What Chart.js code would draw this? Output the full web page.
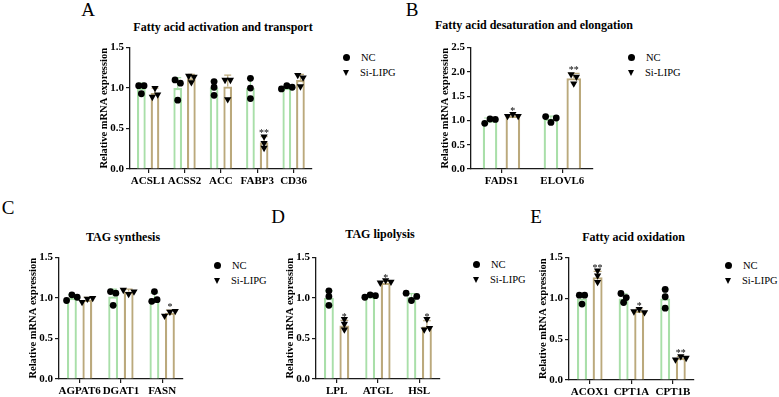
<!DOCTYPE html>
<html lang="en">
<head>
<meta charset="UTF-8">
<title>Lipid metabolism genes</title>
<script src="https://cdn.jsdelivr.net/npm/chart.js"></script>
<style>
  body { margin: 0; background: #fff; width: 779px; height: 397px; position: relative; overflow: hidden;
         font-family: 'Liberation Serif', serif; color: #000; }
  .letter { position: absolute; font-size: 19px; line-height: 1; transform: translate(-50%, -50%); }
  .ptitle { position: absolute; font-size: 12px; font-weight: bold; line-height: 14px; white-space: nowrap;
            transform: translate(-50%, -50%); }
  .leg { position: absolute; height: 14px; display: flex; align-items: center; font-size: 10.5px; }
  .dot { width: 7px; height: 7px; border-radius: 50%; background: #000; margin-right: 11px; }
  .tri { width: 0; height: 0; border-left: 3.5px solid transparent; border-right: 3.5px solid transparent;
         border-top: 6px solid #000; margin-right: 11px; }
</style>
</head>
<body>
<script>
// ---- data ----
const seriesNames = ['NC', 'Si-LIPG'];

// A  fatty acid activation and transport
const catsA = ['ACSL1', 'ACSS2', 'ACC', 'FABP3', 'CD36'];
const ncMeanA = [1.00, 1.00, 1.00, 1.00, 1.00];
const ncSdA = [0.06, 0.13, 0.09, 0.13, 0.02];
const siMeanA = [0.94, 1.12, 1.02, 0.33, 1.10];
const siSdA = [0.06, 0.05, 0.14, 0.07, 0.07];
const ncPtsA = [[1.03, 0.93, 1.03], [1.10, 1.06, 0.85], [1.08, 1.01, 0.91], [1.12, 1.00, 0.87], [0.99, 1.03, 1.01]];
const siPtsA = [[0.89, 1.00, 0.92], [1.15, 1.07, 1.14], [1.10, 0.86, 1.10], [0.40, 0.32, 0.26], [1.16, 1.02, 1.13]];
const starsA = ['', '', '', '**', ''];
const yTicksA = [0, 0.5, 1.0, 1.5];

// B  desaturation and elongation
const catsB = ['FADS1', 'ELOVL6'];
const ncMeanB = [1.00, 1.03];
const ncSdB = [0.05, 0.06];
const siMeanB = [1.10, 1.87];
const siSdB = [0.02, 0.10];
const ncPtsB = [[0.94, 1.03, 1.02], [1.08, 0.96, 1.05]];
const siPtsB = [[1.09, 1.13, 1.09], [1.95, 1.76, 1.90]];
const starsB = ['*', '**'];
const yTicksB = [0, 0.5, 1.0, 1.5, 2.0, 2.5];

// C  TAG synthesis
const catsC = ['AGPAT6', 'DGAT1', 'FASN'];
const ncMeanC = [1.00, 1.02, 1.00];
const ncSdC = [0.04, 0.09, 0.06];
const siMeanC = [0.98, 1.08, 0.82];
const siSdC = [0.03, 0.03, 0.03];
const ncPtsC = [[0.97, 1.04, 1.01], [1.08, 0.91, 1.06], [0.96, 1.08, 0.98]];
const siPtsC = [[0.95, 0.99, 1.00], [1.10, 1.05, 1.08], [0.78, 0.83, 0.84]];
const starsC = ['', '', '*'];
const yTicksC = [0, 0.5, 1.0, 1.5];

// D  TAG lipolysis
const catsD = ['LPL', 'ATGL', 'HSL'];
const ncMeanD = [1.00, 1.02, 1.01];
const ncSdD = [0.09, 0.02, 0.045];
const siMeanD = [0.66, 1.19, 0.65];
const siSdD = [0.065, 0.015, 0.07];
const ncPtsD = [[1.09, 1.02, 0.91], [1.01, 1.04, 1.03], [1.06, 0.97, 1.02]];
const siPtsD = [[0.74, 0.68, 0.61], [1.19, 1.22, 1.20], [0.61, 0.74, 0.63]];
const starsD = ['*', '*', '*'];
const yTicksD = [0, 0.5, 1.0, 1.5];

// E  fatty acid oxidation
const catsE = ['ACOX1', 'CPT1A', 'CPT1B'];
const ncMeanE = [1.00, 1.00, 1.00];
const ncSdE = [0.06, 0.055, 0.115];
const siMeanE = [1.26, 0.85, 0.27];
const siSdE = [0.07, 0.02, 0.02];
const ncPtsE = [[1.04, 0.93, 1.04], [1.06, 0.95, 1.01], [1.11, 1.02, 0.88]];
const siPtsE = [[1.34, 1.28, 1.20], [0.84, 0.87, 0.83], [0.25, 0.29, 0.27]];
const starsE = ['**', '*', '**'];
const yTicksE = [0, 0.5, 1.0, 1.5];

// ---- look ----
const SERIF = "'Liberation Serif', serif";
const GREEN = '#a9dfa9';
const TAN = '#bba97c';
const AXIS = '#1a1a1a';
const Y_W = 32;      // y axis box width (title + ticks)
const X_H = 24;      // x axis box height
const PAD_T = 8;     // room above the top tick
const NEAR = 4.5;    // px: replicates closer than this get spread sideways
const GAP = 5.5;     // px between spread replicates
const SLOT = 0.375;  // distance between NC and Si bar centres, in categories
const BAR_FILL = 0.64;

const panels = [
  { letter: 'A', lx: 88, ly: 9, title: 'Fatty acid activation and transport', cats: catsA,
    ncMean: ncMeanA, ncSd: ncSdA, siMean: siMeanA, siSd: siSdA, ncPts: ncPtsA, siPts: siPtsA, stars: starsA, yTicks: yTicksA,
    box: { axisX: 130, axisEnd: 316, plotTop: 47, plotBottom: 169, titleY: 27 }, leg: { x: 343, y: 57 } },
  { letter: 'B', lx: 412, ly: 9, title: 'Fatty acid desaturation and elongation', cats: catsB,
    ncMean: ncMeanB, ncSd: ncSdB, siMean: siMeanB, siSd: siSdB, ncPts: ncPtsB, siPts: siPtsB, stars: starsB, yTicks: yTicksB,
    box: { axisX: 471, axisEnd: 597, plotTop: 47, plotBottom: 169, titleY: 25 }, leg: { x: 628, y: 57 } },
  { letter: 'C', lx: 8, ly: 207, title: 'TAG synthesis', cats: catsC,
    ncMean: ncMeanC, ncSd: ncSdC, siMean: siMeanC, siSd: siSdC, ncPts: ncPtsC, siPts: siPtsC, stars: starsC, yTicks: yTicksC,
    box: { axisX: 59, axisEnd: 187, plotTop: 257, plotBottom: 379, titleY: 237 }, leg: { x: 214, y: 265 } },
  { letter: 'D', lx: 278, ly: 216, title: 'TAG lipolysis', cats: catsD,
    ncMean: ncMeanD, ncSd: ncSdD, siMean: siMeanD, siSd: siSdD, ncPts: ncPtsD, siPts: siPtsD, stars: starsD, yTicks: yTicksD,
    box: { axisX: 316, axisEnd: 444, plotTop: 257, plotBottom: 379, titleY: 234 }, leg: { x: 473, y: 264 } },
  { letter: 'E', lx: 536, ly: 216, title: 'Fatty acid oxidation', cats: catsE,
    ncMean: ncMeanE, ncSd: ncSdE, siMean: siMeanE, siSd: siSdE, ncPts: ncPtsE, siPts: siPtsE, stars: starsE, yTicks: yTicksE,
    box: { axisX: 569, axisEnd: 698, plotTop: 257, plotBottom: 380, titleY: 237 }, leg: { x: 725, y: 265 } }
];

// error bars (upper half, like the figure) and significance stars
const errorBars = {
  id: 'errorBars',
  afterDatasetDraw(chart, args) {
    const ds = chart.data.datasets[args.index];
    if (!ds.sd) return;
    const y = chart.scales.y, ctx = chart.ctx;
    ctx.save();
    ctx.strokeStyle = ds.borderColor;
    ctx.lineWidth = 1.2;
    args.meta.data.forEach((bar, i) => {
      const top = y.getPixelForValue(ds.mean[i] + ds.sd[i]);
      const base = y.getPixelForValue(ds.mean[i]);
      const hw = bar.width * 0.4;
      ctx.beginPath();
      ctx.moveTo(bar.x, base); ctx.lineTo(bar.x, top);
      ctx.moveTo(bar.x - hw, top); ctx.lineTo(bar.x + hw, top);
      ctx.stroke();
    });
    ctx.restore();
  },
  afterDatasetsDraw(chart) {
    const y = chart.scales.y, ctx = chart.ctx;
    chart.data.datasets.forEach((ds, di) => {
      if (!ds.stars) return;
      const meta = chart.getDatasetMeta(di);
      ctx.save();
      ctx.fillStyle = '#000';
      ctx.font = '10px ' + SERIF;
      ctx.textAlign = 'center';
      ctx.textBaseline = 'bottom';
      meta.data.forEach((bar, i) => {
        if (!ds.stars[i]) return;
        ctx.fillText(ds.stars[i], bar.x, y.getPixelForValue(ds.mean[i] + ds.sd[i]) + 2);
      });
      ctx.restore();
    });
  }
};

// replicate points, side by side when they would overlap
function spread(groups, shift, pxPerUnit, catPx) {
  const out = [];
  groups.forEach((vals, ci) => {
    const idx = vals.map((v, i) => i).sort((a, b) => vals[a] - vals[b]);
    let cluster = [idx[0]];
    const flush = () => {
      cluster.sort((a, b) => a - b).forEach((k, j) => {
        out.push({ x: ci + shift + (j - (cluster.length - 1) / 2) * GAP / catPx, y: vals[k] });
      });
    };
    for (let j = 1; j < idx.length; j++) {
      if ((vals[idx[j]] - vals[idx[j - 1]]) * pxPerUnit < NEAR) cluster.push(idx[j]);
      else { flush(); cluster = [idx[j]]; }
    }
    flush();
  });
  return out;
}

function addDiv(cls, text, x, y) {
  const d = document.createElement('div');
  d.className = cls;
  d.textContent = text;
  d.style.left = x + 'px';
  d.style.top = y + 'px';
  document.body.appendChild(d);
  return d;
}

function makePanel(p) {
  const b = p.box;
  const left = b.axisX - Y_W;
  const top = b.plotTop - PAD_T;
  const w = b.axisEnd - left;
  const h = b.plotBottom + X_H - top;
  const cv = document.createElement('canvas');
  cv.width = w; cv.height = h;
  cv.style.cssText = `position:absolute;left:${left}px;top:${top}px;width:${w}px;height:${h}px`;
  document.body.appendChild(cv);

  const n = p.cats.length;
  const ymax = p.yTicks[p.yTicks.length - 1];
  const pxPerUnit = (b.plotBottom - b.plotTop) / ymax;
  const catPx = (b.axisEnd - b.axisX) / n;
  const shift = SLOT / 2;
  const tickFont = { family: SERIF, weight: 'bold', size: 11 };
  const barSet = (name, means, sds, colour, side, stars) => ({
    type: 'bar', label: name, xAxisID: 'xp', yAxisID: 'y',
    data: means.map((v, i) => ({ x: i + side, y: v })),
    mean: means, sd: sds, stars: stars,
    backgroundColor: '#fff', borderColor: colour, borderWidth: 2.3, borderSkipped: 'start',
    grouped: false, barPercentage: 1, categoryPercentage: BAR_FILL, order: 1
  });

  new Chart(cv, {
    type: 'bar',
    data: {
      labels: p.cats,
      datasets: [
        { type: 'scatter', label: seriesNames[0], data: spread(p.ncPts, -shift, pxPerUnit, catPx), xAxisID: 'xp', yAxisID: 'y',
          pointStyle: 'circle', pointRadius: 3.4, backgroundColor: '#000', borderColor: '#000', borderWidth: 0, order: 0 },
        { type: 'scatter', label: seriesNames[1], data: spread(p.siPts, shift, pxPerUnit, catPx), xAxisID: 'xp', yAxisID: 'y',
          pointStyle: 'triangle', pointRotation: 180, pointRadius: 4.2, backgroundColor: '#000', borderColor: '#000', borderWidth: 0, order: 0 },
        barSet(seriesNames[0], p.ncMean, p.ncSd, GREEN, -shift, null),
        barSet(seriesNames[1], p.siMean, p.siSd, TAN, shift, p.stars)
      ]
    },
    options: {
      responsive: false,
      animation: false,
      devicePixelRatio: 1,
      layout: { padding: { top: PAD_T, left: 0, right: 0, bottom: 0 } },
      plugins: { legend: { display: false }, tooltip: { enabled: false } },
      scales: {
        x: {
          type: 'category', offset: true,
          grid: { offset: false, drawOnChartArea: false, drawTicks: true, tickLength: 4, color: AXIS, lineWidth: 1.2 },
          border: { color: AXIS, width: 1.3 },
          ticks: { color: '#000', font: tickFont, padding: 2, maxRotation: 0, autoSkip: false },
          afterFit: s => { s.height = X_H; }
        },
        xp: {
          type: 'linear', display: false, offset: false, bounds: 'data', min: -0.5, max: n - 0.5,
          grid: { offset: false },
          afterBuildTicks: s => { s.ticks = [{ value: -0.5 }, { value: n - 0.5 }]; }
        },
        y: {
          min: 0, max: ymax,
          afterBuildTicks: s => { s.ticks = p.yTicks.map(v => ({ value: v })); },
          grid: { drawOnChartArea: false, drawTicks: true, tickLength: 4, color: AXIS, lineWidth: 1.2 },
          border: { color: AXIS, width: 1.3 },
          ticks: { color: '#000', font: tickFont, padding: 2, callback: v => Number(v).toFixed(1) },
          title: { display: true, text: 'Relative mRNA expression', color: '#000', padding: 0,
                   font: { family: SERIF, weight: 'bold', size: 10.5 } },
          afterFit: s => { s.width = Y_W; }
        }
      }
    },
    plugins: [errorBars]
  });

  addDiv('letter', p.letter, p.lx, p.ly);
  addDiv('ptitle', p.title, (b.axisX + b.axisEnd) / 2, b.titleY);

  seriesNames.forEach((name, i) => {
    const row = addDiv('leg', '', p.leg.x, p.leg.y - 7 + i * 15.5);
    const mk = document.createElement('span');
    mk.className = i === 0 ? 'dot' : 'tri';
    const tx = document.createElement('span');
    tx.textContent = name;
    row.appendChild(mk);
    row.appendChild(tx);
  });
}

panels.forEach(makePanel);
</script>
</body>
</html>
